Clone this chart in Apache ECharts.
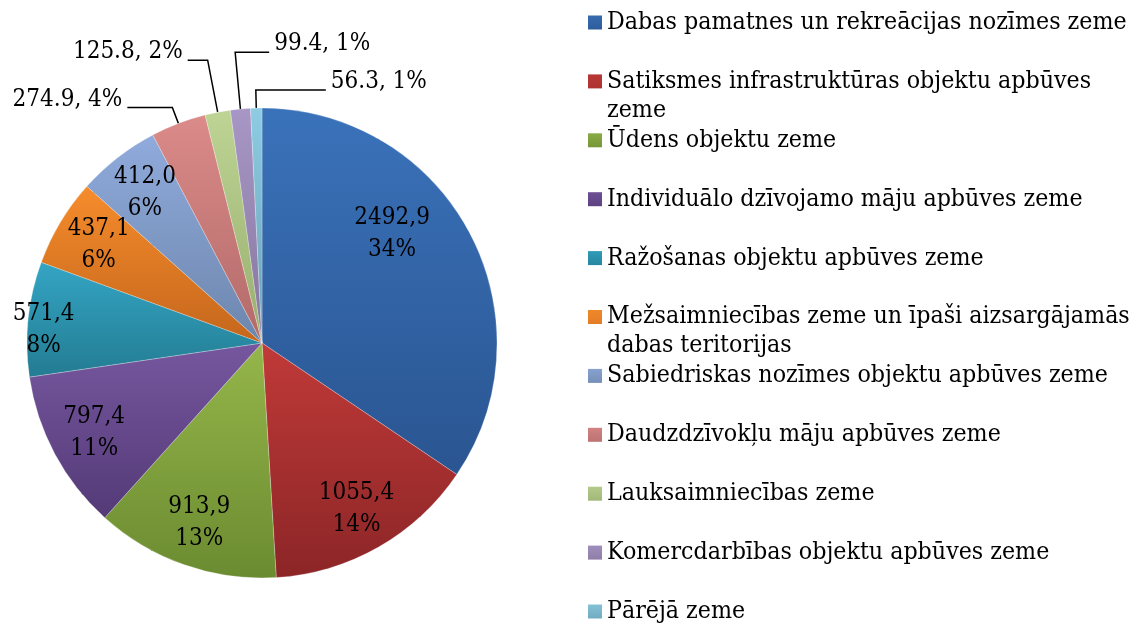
<!DOCTYPE html>
<html><head><meta charset="utf-8">
<script src="https://cdn.jsdelivr.net/npm/echarts@6/dist/echarts.min.js"></script>
<style>html,body{margin:0;padding:0;background:#fff}#c{width:1135px;height:623px}</style>
</head><body><div id="c"></div>
<script>
const categories = [
  'Dabas pamatnes un rekreācijas nozīmes zeme',
  'Satiksmes infrastruktūras objektu apbūves zeme',
  'Ūdens objektu zeme',
  'Individuālo dzīvojamo māju apbūves zeme',
  'Ražošanas objektu apbūves zeme',
  'Mežsaimniecības zeme un īpaši aizsargājamās dabas teritorijas',
  'Sabiedriskas nozīmes objektu apbūves zeme',
  'Daudzdzīvokļu māju apbūves zeme',
  'Lauksaimniecības zeme',
  'Komercdarbības objektu apbūves zeme',
  'Pārējā zeme'
];
const values = [2492.9, 1055.4, 913.9, 797.4, 571.4, 437.1, 412.0, 274.9, 125.8, 99.4, 56.3];
const topColors = ['#3a72ba','#c03a38','#95b64a','#76579f','#34a5c4','#f68c2c','#90abdc','#db8b89','#bdd494','#a897c6','#8dcce3'];
const bottomColors = ['#2a5591','#8c2527','#6b8b31','#543a77','#237c92','#c4661c','#6d86ad','#b26a69','#98ae6f','#85769d','#68a0b4'];

// label placement config (style only)
const outsideLeaders = { 7: [17, 45, 'left'], 8: [53, 20, 'left'], 9: [57, 34, 'right'], 10: [18, 70, 'right'] };
const insideNudge = { 0: [-38, -20], 4: [-29, 6] };
const legendBreakAfter = { 1: 'apbūves', 5: 'aizsargājamās' };

const FONT = 'DejaVu Serif Condensed';
const CX = 262, CY = 343, R = 235;
const SLOT = 58.9, LEG_TOP = 8, LINE_H = 29;
const LABEL_RAISE = 8;

const data = values.map((v, i) => {
  const lead = outsideLeaders[i];
  const item = {
    name: categories[i],
    value: v,
    itemStyle: {
      color: { type: 'linear', x: 0, y: 0, x2: 0, y2: 1,
        colorStops: [{offset: 0, color: topColors[i]}, {offset: 1, color: bottomColors[i]}] }
    },
    label: { position: lead ? 'outside' : 'inside' }
  };
  if (lead) item.labelLine = { length: lead[0], length2: lead[1] };
  return item;
});

// legend split into blocks so every entry keeps a fixed slot
const groups = [];
let cur = [];
categories.forEach((c, i) => {
  if (legendBreakAfter[i]) {
    if (cur.length) groups.push(cur);
    groups.push([i]);
    cur = [];
  } else cur.push(i);
});
if (cur.length) groups.push(cur);

const iconFor = (h) => 'path://M0,0L0,0M0,7.5L14,7.5L14,21.5L0,21.5ZM0,' + h + 'L0,' + h;
const legendText = (name) => {
  const w = legendBreakAfter[categories.indexOf(name)];
  if (!w) return name;
  const k = name.indexOf(w) + w.length;
  return name.slice(0, k) + '\n' + name.slice(k + 1);
};

const legends = groups.map((g) => {
  const wrapped = !!legendBreakAfter[g[0]];
  const h = wrapped ? 2 * LINE_H : LINE_H;
  return {
    orient: 'vertical',
    left: 588,
    top: LEG_TOP + g[0] * SLOT,
    height: 400,
    padding: 0,
    itemWidth: 14,
    itemHeight: h,
    itemGap: SLOT - LINE_H,
    icon: iconFor(h),
    itemStyle: { borderWidth: 0 },
    formatter: legendText,
    textStyle: { fontFamily: FONT, fontSize: 24.7, color: '#000', lineHeight: LINE_H },
    data: g.map((i) => categories[i])
  };
});

const chart = echarts.init(document.getElementById('c'));
chart.setOption({
  animation: false,
  backgroundColor: '#fff',
  legend: legends,
  series: [{
    type: 'pie',
    center: [CX, CY],
    radius: R,
    startAngle: 90,
    clockwise: true,
    avoidLabelOverlap: false,
    minShowLabelAngle: 0,
    itemStyle: { borderColor: 'rgba(255,255,255,0.5)', borderWidth: 0.5 },
    label: {
      color: '#000', fontFamily: FONT, fontSize: 24, lineHeight: 32,
      overflow: 'none', bleedMargin: 0, distanceToLabelLine: 5,
      formatter: (p) => outsideLeaders[p.dataIndex]
        ? p.value.toFixed(1) + ', ' + p.percent + '%'
        : p.value.toFixed(1).replace('.', ',') + '\n' + p.percent + '%'
    },
    percentPrecision: 0,
    labelLine: { show: true, smooth: false, lineStyle: { color: '#000', width: 1.5 } },
    labelLayout: (p) => {
      const lead = outsideLeaders[p.dataIndex];
      if (lead) {
        if (!p.labelLinePoints) return {};
        const pts = p.labelLinePoints;
        const bx = pts[1][0], by = pts[1][1];
        const len2 = Math.abs(pts[2][0] - bx);
        const toRight = lead[2] === 'right';
        const ex = toRight ? bx + len2 : bx - len2;
        return { x: toRight ? ex + 5 : ex - 5, y: by - LABEL_RAISE,
          align: toRight ? 'left' : 'right', verticalAlign: 'middle',
          labelLinePoints: [pts[0], pts[1], [ex, by]] };
      }
      const lx = p.labelRect.x + p.labelRect.width / 2;
      const ly = p.labelRect.y + p.labelRect.height / 2;
      const k = 1.58;
      const n = insideNudge[p.dataIndex] || [0, 0];
      return { x: CX + (lx - CX) * k + n[0], y: CY + (ly - CY) * k + n[1] };
    },
    data: data
  }]
});
</script>
</body></html>
